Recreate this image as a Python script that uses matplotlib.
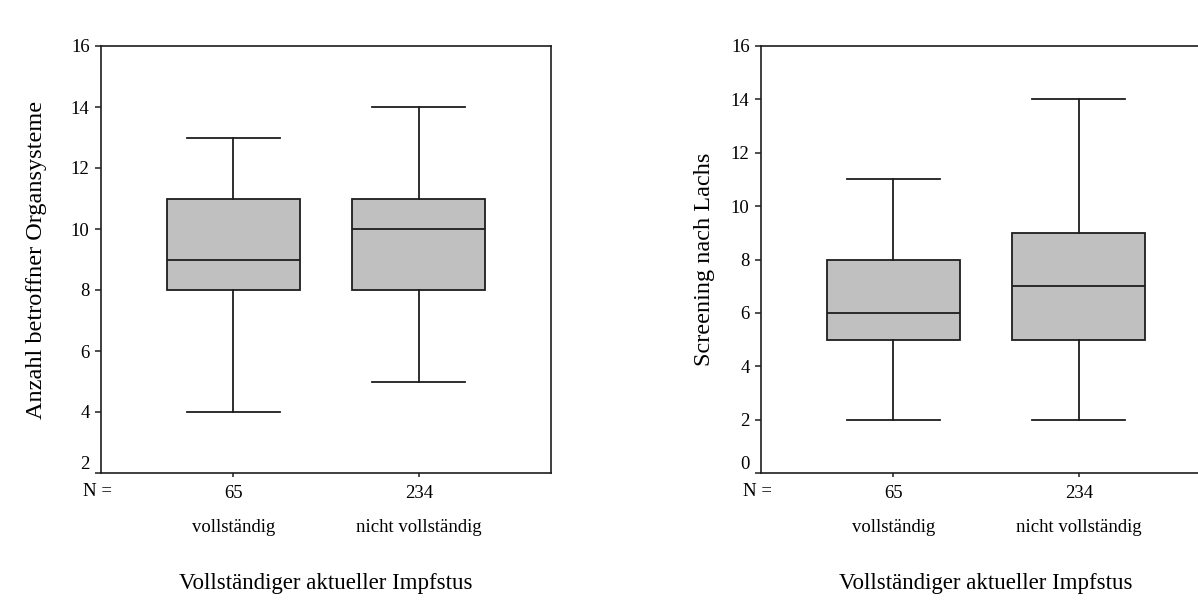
import matplotlib
matplotlib.use('Agg')
import matplotlib.pyplot as plt

# groups and sample sizes
groups = ['vollständig', 'nicht vollständig']
n_counts = [65, 234]

# box summaries: low whisker, Q1, median, Q3, high whisker
organ_lo = [4, 5]
organ_q1 = [8, 8]
organ_med = [9, 10]
organ_q3 = [11, 11]
organ_hi = [13, 14]

lachs_lo = [2, 2]
lachs_q1 = [5, 5]
lachs_med = [6, 7]
lachs_q3 = [8, 9]
lachs_hi = [11, 14]

xlabel = 'Vollständiger aktueller Impfstus'
ylabels = ['Anzahl betroffner Organsysteme', 'Screening nach Lachs']

line_col = '#1e1e1e'
fill_col = '#c0c0c0'
font = 'Liberation Serif'

fig = plt.figure(figsize=(11.98, 6.03), dpi=100)
ax1 = fig.add_axes([100.7 / 1198, 130 / 603, 450.6 / 1198, 427 / 603])
ax2 = fig.add_axes([760.7 / 1198, 130 / 603, 450.6 / 1198, 427 / 603])


def make_stats(lo, q1, med, q3, hi):
    return [dict(whislo=lo[i], q1=q1[i], med=med[i], q3=q3[i], whishi=hi[i], fliers=[])
            for i in range(len(lo))]


panels = [
    (ax1, make_stats(organ_lo, organ_q1, organ_med, organ_q3, organ_hi), (2, 16), ylabels[0], -0.142),
    (ax2, make_stats(lachs_lo, lachs_q1, lachs_med, lachs_q3, lachs_hi), (0, 16), ylabels[1], -0.124),
]

for ax, stats, ylim, ylab, ylab_x in panels:
    ax.bxp(stats, positions=[1, 2], widths=0.716, capwidths=0.5, patch_artist=True,
           showfliers=False,
           boxprops=dict(facecolor=fill_col, edgecolor=line_col, linewidth=1.3),
           medianprops=dict(color=line_col, linewidth=1.3),
           whiskerprops=dict(color=line_col, linewidth=1.3),
           capprops=dict(color=line_col, linewidth=1.3))
    ax.set_xlim(0.285, 2.715)
    ax.set_ylim(*ylim)
    ax.set_yticks(range(ylim[0], 17, 2))
    ax.set_xticks([1, 2])
    ax.set_xticklabels([str(n) for n in n_counts])
    ax.tick_params(axis='y', length=4, width=1.1, pad=4, labelsize=13.5, color=line_col)
    ax.tick_params(axis='x', length=3, width=1.1, pad=6, labelsize=13.5, color=line_col)
    for lbl in ax.get_xticklabels() + ax.get_yticklabels():
        lbl.set_fontfamily(font)
    # lowest y label sits just above the bottom spine
    ax.get_yticklabels()[0].set_va('bottom')
    for sp in ax.spines.values():
        sp.set_linewidth(1.2)
        sp.set_color(line_col)

    # "N =" row to the left of the counts
    ax.annotate('N =', xy=(0, 0), xycoords='axes fraction', xytext=(-3, -19),
                textcoords='offset pixels', ha='center', va='center',
                fontsize=13.5, family=font)

    # group names below the counts
    for pos, g in zip([1, 2], groups):
        ax.text(pos, -0.127, g, transform=ax.get_xaxis_transform(),
                ha='center', va='center', fontsize=13.5, family=font)

    ax.set_xlabel(xlabel, fontsize=16.5, family=font, va='center')
    ax.xaxis.set_label_coords(0.5, -0.258)
    ax.set_ylabel(ylab, fontsize=17.5, family=font, va='center')
    ax.yaxis.set_label_coords(ylab_x, 0.5)

fig.savefig('out.png', dpi=100)
